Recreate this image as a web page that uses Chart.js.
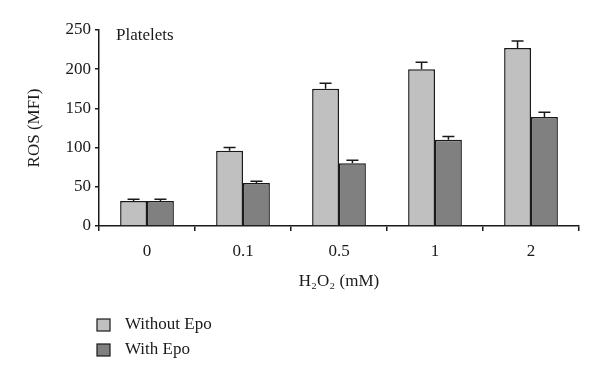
<!DOCTYPE html>
<html>
<head>
<meta charset="utf-8">
<script src="https://cdn.jsdelivr.net/npm/chart.js@4"></script>
<style>
  body { margin: 0; background: #fff; }
  #wrap { width: 600px; height: 382px; position: relative; }
</style>
</head>
<body>
<div id="wrap"><canvas id="myChart"></canvas></div>
<script>
// data
const doses = ['0', '0.1', '0.5', '1', '2'];
const withoutEpo = [32, 96, 175, 200, 227];
const withoutEpoErr = [2, 4, 7, 9, 9];
const withEpo = [32, 55, 80, 110, 139];
const withEpoErr = [2, 2, 4, 4, 6];
const seriesNames = ['Without Epo', 'With Epo'];
const yTicks = [0, 50, 100, 150, 200, 250];
const panelLabel = 'Platelets';

const serif = "'Liberation Serif', 'DejaVu Serif', serif";
const fs = 17;

// up-only error whiskers
const errorBars = {
  id: 'errorBars',
  afterDatasetsDraw(chart) {
    const ctx = chart.ctx;
    const y = chart.scales.y;
    ctx.save();
    ctx.strokeStyle = '#1a1a1a';
    ctx.lineWidth = 1.5;
    chart.data.datasets.forEach((ds, i) => {
      const meta = chart.getDatasetMeta(i);
      meta.data.forEach((bar, j) => {
        const top = y.getPixelForValue(ds.data[j] + ds.err[j]);
        const cx = bar.x;
        ctx.beginPath();
        ctx.moveTo(cx, bar.y);
        ctx.lineTo(cx, top);
        ctx.moveTo(cx - 6, top);
        ctx.lineTo(cx + 6, top);
        ctx.stroke();
      });
    });
    ctx.restore();
  }
};

// panel label + legend stacked at bottom left
const extras = {
  id: 'extras',
  afterDraw(chart) {
    const ctx = chart.ctx;
    ctx.save();
    ctx.fillStyle = '#1a1a1a';
    ctx.font = fs + 'px ' + serif;
    ctx.textBaseline = 'middle';
    ctx.textAlign = 'left';
    ctx.fillText(panelLabel, 116, 36);

    chart.data.datasets.forEach((ds, i) => {
      const cy = 325 + i * 25;
      ctx.fillStyle = ds.backgroundColor;
      ctx.fillRect(97, cy - 6, 13, 12);
      ctx.strokeStyle = '#1a1a1a';
      ctx.lineWidth = 1.2;
      ctx.strokeRect(97, cy - 6, 13, 12);
      ctx.fillStyle = '#1a1a1a';
      ctx.fillText(ds.label, 125, cy);
    });
    ctx.restore();
  }
};

const ctx = document.getElementById('myChart').getContext('2d');
const myChart = new Chart(ctx, {
  type: 'bar',
  data: {
    labels: doses,
    datasets: [{
      label: seriesNames[0],
      data: withoutEpo,
      err: withoutEpoErr,
      backgroundColor: '#c0c0c0',
      borderColor: '#1a1a1a',
      borderWidth: 1.5
    }, {
      label: seriesNames[1],
      data: withEpo,
      err: withEpoErr,
      backgroundColor: '#808080',
      borderColor: '#1a1a1a',
      borderWidth: 1.5
    }]
  },
  options: {
    responsive: true,
    maintainAspectRatio: false,
    animation: false,
    layout: { padding: { left: 0, right: 21, top: 30, bottom: 86 } },
    datasets: { bar: { categoryPercentage: 0.56, barPercentage: 1 } },
    plugins: {
      legend: { display: false },
      tooltip: { enabled: false }
    },
    scales: {
      x: {
        offset: true,
        grid: { offset: true, drawOnChartArea: false, tickLength: 5, color: '#1a1a1a', lineWidth: 1.5 },
        border: { color: '#1a1a1a', width: 1.5 },
        ticks: { color: '#1a1a1a', font: { family: serif, size: fs }, padding: 10 },
        title: { display: true, text: 'H₂O₂ (mM)', color: '#1a1a1a', font: { family: serif, size: fs }, padding: { top: 6 } },
        afterFit(s) { s.height = 70; }
      },
      y: {
        min: 0,
        max: 250,
        afterBuildTicks(s) { s.ticks = yTicks.map(v => ({ value: v })); },
        grid: { drawOnChartArea: false, tickLength: 4, color: '#1a1a1a', lineWidth: 1.5 },
        border: { color: '#1a1a1a', width: 1.5 },
        ticks: { color: '#1a1a1a', font: { family: serif, size: fs }, padding: 4 },
        title: { display: true, text: 'ROS (MFI)', color: '#1a1a1a', font: { family: serif, size: fs }, padding: { top: 24 } },
        afterFit(s) { s.width = 99; }
      }
    }
  },
  plugins: [errorBars, extras]
});
</script>
</body>
</html>
